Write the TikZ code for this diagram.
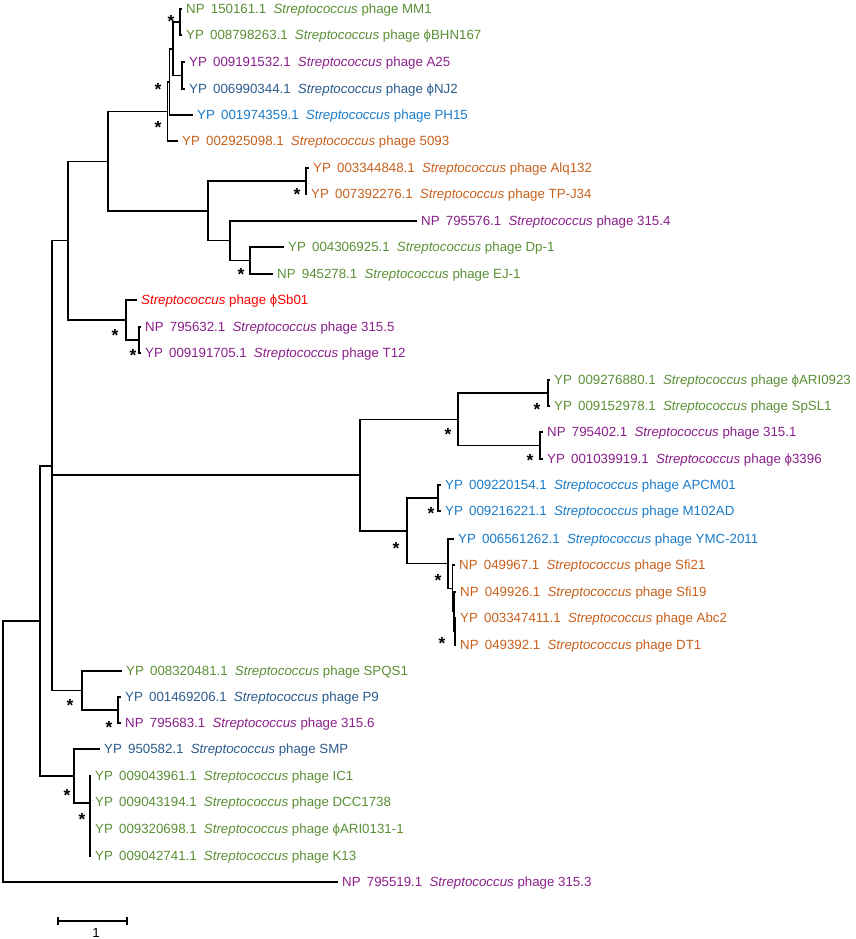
\documentclass[tikz,border=0pt]{standalone}
\usepackage{fontspec}
\setmainfont{Liberation Sans}
\definecolor{grn}{HTML}{5A8F35}
\definecolor{pur}{HTML}{8A1F8A}
\definecolor{dbl}{HTML}{2B5B8C}
\definecolor{lbl}{HTML}{1A7CCB}
\definecolor{org}{HTML}{C8601C}
\definecolor{rd}{HTML}{FF0000}
\newcommand\St{\textit{Streptococcus}}
\newcommand\Acc[2]{#1\hspace{2.5pt} #2\hspace{3.5pt} }
\tikzset{
  edge/.style={line width=1.1pt, black},
  lab/.style={anchor=west, inner sep=0pt, xshift=4pt, text height=9.5pt, text depth=0pt, font=\fontsize{13.3}{15}\selectfont},
  bstar/.style={inner sep=0pt, anchor=base, yshift=-9.8pt, font=\fontsize{17.5}{17}\selectfont\bfseries}
}
\begin{document}
\begin{tikzpicture}[x=1pt,y=-1pt]
\useasboundingbox (0,0) rectangle (856,939);
% leaf tips
\coordinate (l1) at (182,9);
\coordinate (l2) at (182,35);
\coordinate (l3) at (185,62);
\coordinate (l4) at (185,89);
\coordinate (l5) at (193,115);
\coordinate (l6) at (178,141);
\coordinate (l7) at (309,168);
\coordinate (l8) at (307,194);
\coordinate (l9) at (417,221);
\coordinate (l10) at (284,247);
\coordinate (l11) at (273,274);
\coordinate (l12) at (137,300);
\coordinate (l13) at (141,327);
\coordinate (l14) at (141,353);
\coordinate (l15) at (550,380);
\coordinate (l16) at (550,406);
\coordinate (l17) at (543,432);
\coordinate (l18) at (543,459);
\coordinate (l19) at (441,485);
\coordinate (l20) at (441,511);
\coordinate (l21) at (454,539);
\coordinate (l22) at (455,565);
\coordinate (l23) at (456,592);
\coordinate (l24) at (456,618);
\coordinate (l25) at (456,645);
\coordinate (l26) at (122,671);
\coordinate (l27) at (121,697);
\coordinate (l28) at (121,723);
\coordinate (l29) at (100,749);
\coordinate (l30) at (91,776);
\coordinate (l31) at (91,802);
\coordinate (l32) at (91,829);
\coordinate (l33) at (91,856);
\coordinate (l34) at (338,882);
% internal nodes
\coordinate (n12) at (180,22);
\coordinate (n34) at (182,75.5);
\coordinate (nA) at (173,49);
\coordinate (nB) at (169.5,82);
\coordinate (nC) at (167.5,111.5);
\coordinate (nD) at (306,181);
\coordinate (nE) at (250,260.5);
\coordinate (nF) at (230,240.75);
\coordinate (nG) at (208,211);
\coordinate (nH) at (108,161.5);
\coordinate (nJ) at (139,340);
\coordinate (nI) at (126,320);
\coordinate (nK) at (68,240.75);
\coordinate (n1516) at (548,393);
\coordinate (n1718) at (540,445.5);
\coordinate (nM) at (458,419.25);
\coordinate (n1920) at (438,498);
\coordinate (nQ) at (455,631.5);
\coordinate (nP) at (454,611.75);
\coordinate (nO) at (452.5,588.4);
\coordinate (nN) at (448,563.7);
\coordinate (nR) at (407,531);
\coordinate (nL) at (360,475);
\coordinate (nU) at (118,710);
\coordinate (nT) at (82,690.5);
\coordinate (nS) at (52,466);
\coordinate (nW) at (90,803);
\coordinate (nV) at (74,776);
\coordinate (nZ) at (40,621);
\coordinate (root) at (3,751.5);
% edges
\draw[edge] (n12) |- (l1); \draw[edge] (n12) |- (l2);
\draw[edge] (n34) |- (l3); \draw[edge] (n34) |- (l4);
\draw[edge] (nA) |- (n12); \draw[edge] (nA) |- (n34);
\draw[edge] (nB) |- (nA); \draw[edge] (nB) |- (l5);
\draw[edge] (nC) |- (nB); \draw[edge] (nC) |- (l6);
\draw[edge] (nD) |- (l7); \draw[edge] (nD) |- (l8);
\draw[edge] (nE) |- (l10); \draw[edge] (nE) |- (l11);
\draw[edge] (nF) |- (l9); \draw[edge] (nF) |- (nE);
\draw[edge] (nG) |- (nD); \draw[edge] (nG) |- (nF);
\draw[edge] (nH) |- (nC); \draw[edge] (nH) |- (nG);
\draw[edge] (nJ) |- (l13); \draw[edge] (nJ) |- (l14);
\draw[edge] (nI) |- (l12); \draw[edge] (nI) |- (nJ);
\draw[edge] (nK) |- (nH); \draw[edge] (nK) |- (nI);
\draw[edge] (n1516) |- (l15); \draw[edge] (n1516) |- (l16);
\draw[edge] (n1718) |- (l17); \draw[edge] (n1718) |- (l18);
\draw[edge] (nM) |- (n1516); \draw[edge] (nM) |- (n1718);
\draw[edge] (n1920) |- (l19); \draw[edge] (n1920) |- (l20);
\draw[edge] (nQ) |- (l24); \draw[edge] (nQ) |- (l25);
\draw[edge] (nP) |- (l23); \draw[edge] (nP) |- (nQ);
\draw[edge] (nO) |- (l22); \draw[edge] (nO) |- (nP);
\draw[edge] (nN) |- (l21); \draw[edge] (nN) |- (nO);
\draw[edge] (nR) |- (n1920); \draw[edge] (nR) |- (nN);
\draw[edge] (nL) |- (nM); \draw[edge] (nL) |- (nR);
\draw[edge] (nU) |- (l27); \draw[edge] (nU) |- (l28);
\draw[edge] (nT) |- (l26); \draw[edge] (nT) |- (nU);
\draw[edge] (nS) |- (nK); \draw[edge] (nS) |- (nL); \draw[edge] (nS) |- (nT);
\draw[edge] (nW) |- (l30); \draw[edge] (nW) |- (l31); \draw[edge] (nW) |- (l32); \draw[edge] (nW) |- (l33);
\draw[edge] (nV) |- (l29); \draw[edge] (nV) |- (nW);
\draw[edge] (nZ) |- (nS); \draw[edge] (nZ) |- (nV);
\draw[edge] (root) |- (nZ); \draw[edge] (root) |- (l34);
% labels
\node[lab, text=grn] (t1) at (l1) {\Acc{NP}{150161.1}\St{} phage MM1};
\node[lab, text=grn] (t2) at (l2) {\Acc{YP}{008798263.1}\St{} phage ϕBHN167};
\node[lab, text=pur] (t3) at (l3) {\Acc{YP}{009191532.1}\St{} phage A25};
\node[lab, text=dbl] (t4) at (l4) {\Acc{YP}{006990344.1}\St{} phage ϕNJ2};
\node[lab, text=lbl] (t5) at (l5) {\Acc{YP}{001974359.1}\St{} phage PH15};
\node[lab, text=org] (t6) at (l6) {\Acc{YP}{002925098.1}\St{} phage 5093};
\node[lab, text=org] (t7) at (l7) {\Acc{YP}{003344848.1}\St{} phage Alq132};
\node[lab, text=org] (t8) at (l8) {\Acc{YP}{007392276.1}\St{} phage TP-J34};
\node[lab, text=pur] (t9) at (l9) {\Acc{NP}{795576.1}\St{} phage 315.4};
\node[lab, text=grn] (t10) at (l10) {\Acc{YP}{004306925.1}\St{} phage Dp-1};
\node[lab, text=grn] (t11) at (l11) {\Acc{NP}{945278.1}\St{} phage EJ-1};
\node[lab, text=rd] (t12) at (l12) {\St{} phage ϕSb01};
\node[lab, text=pur] (t13) at (l13) {\Acc{NP}{795632.1}\St{} phage 315.5};
\node[lab, text=pur] (t14) at (l14) {\Acc{YP}{009191705.1}\St{} phage T12};
\node[lab, text=grn] (t15) at (l15) {\Acc{YP}{009276880.1}\St{} phage ϕARI0923};
\node[lab, text=grn] (t16) at (l16) {\Acc{YP}{009152978.1}\St{} phage SpSL1};
\node[lab, text=pur] (t17) at (l17) {\Acc{NP}{795402.1}\St{} phage 315.1};
\node[lab, text=pur] (t18) at (l18) {\Acc{YP}{001039919.1}\St{} phage ϕ3396};
\node[lab, text=lbl] (t19) at (l19) {\Acc{YP}{009220154.1}\St{} phage APCM01};
\node[lab, text=lbl] (t20) at (l20) {\Acc{YP}{009216221.1}\St{} phage M102AD};
\node[lab, text=lbl] (t21) at (l21) {\Acc{YP}{006561262.1}\St{} phage YMC-2011};
\node[lab, text=org] (t22) at (l22) {\Acc{NP}{049967.1}\St{} phage Sfi21};
\node[lab, text=org] (t23) at (l23) {\Acc{NP}{049926.1}\St{} phage Sfi19};
\node[lab, text=org] (t24) at (l24) {\Acc{YP}{003347411.1}\St{} phage Abc2};
\node[lab, text=org] (t25) at (l25) {\Acc{NP}{049392.1}\St{} phage DT1};
\node[lab, text=grn] (t26) at (l26) {\Acc{YP}{008320481.1}\St{} phage SPQS1};
\node[lab, text=dbl] (t27) at (l27) {\Acc{YP}{001469206.1}\St{} phage P9};
\node[lab, text=pur] (t28) at (l28) {\Acc{NP}{795683.1}\St{} phage 315.6};
\node[lab, text=dbl] (t29) at (l29) {\Acc{YP}{950582.1}\St{} phage SMP};
\node[lab, text=grn] (t30) at (l30) {\Acc{YP}{009043961.1}\St{} phage IC1};
\node[lab, text=grn] (t31) at (l31) {\Acc{YP}{009043194.1}\St{} phage DCC1738};
\node[lab, text=grn] (t32) at (l32) {\Acc{YP}{009320698.1}\St{} phage ϕARI0131-1};
\node[lab, text=grn] (t33) at (l33) {\Acc{YP}{009042741.1}\St{} phage K13};
\node[lab, text=pur] (t34) at (l34) {\Acc{NP}{795519.1}\St{} phage 315.3};
% bootstrap stars
\node[bstar] (s1) at (171,18) {*};
\node[bstar] (s2) at (158,86) {*};
\node[bstar] (s3) at (158,124) {*};
\node[bstar] (s4) at (297,191) {*};
\node[bstar] (s5) at (241,271) {*};
\node[bstar] (s6) at (115,332) {*};
\node[bstar] (s7) at (133,352) {*};
\node[bstar] (s8) at (537,406) {*};
\node[bstar] (s9) at (530,457) {*};
\node[bstar] (s10) at (448,431) {*};
\node[bstar] (s11) at (431,510) {*};
\node[bstar] (s12) at (396,545) {*};
\node[bstar] (s13) at (438,577) {*};
\node[bstar] (s14) at (442,640) {*};
\node[bstar] (s15) at (70,702) {*};
\node[bstar] (s16) at (109,724) {*};
\node[bstar] (s17) at (67,792) {*};
\node[bstar] (s18) at (82,816) {*};
% scale bar
\coordinate (sb1) at (58,921);
\coordinate (sb2) at (127,921);
\draw[edge] (sb1) -- (sb2);
\draw[edge] ([yshift=4pt]sb1) -- ([yshift=-4pt]sb1);
\draw[edge] ([yshift=4pt]sb2) -- ([yshift=-4pt]sb2);
\node[lab, anchor=center, xshift=0pt] (sbl) at (92,933) {1};
\end{tikzpicture}
\end{document}
